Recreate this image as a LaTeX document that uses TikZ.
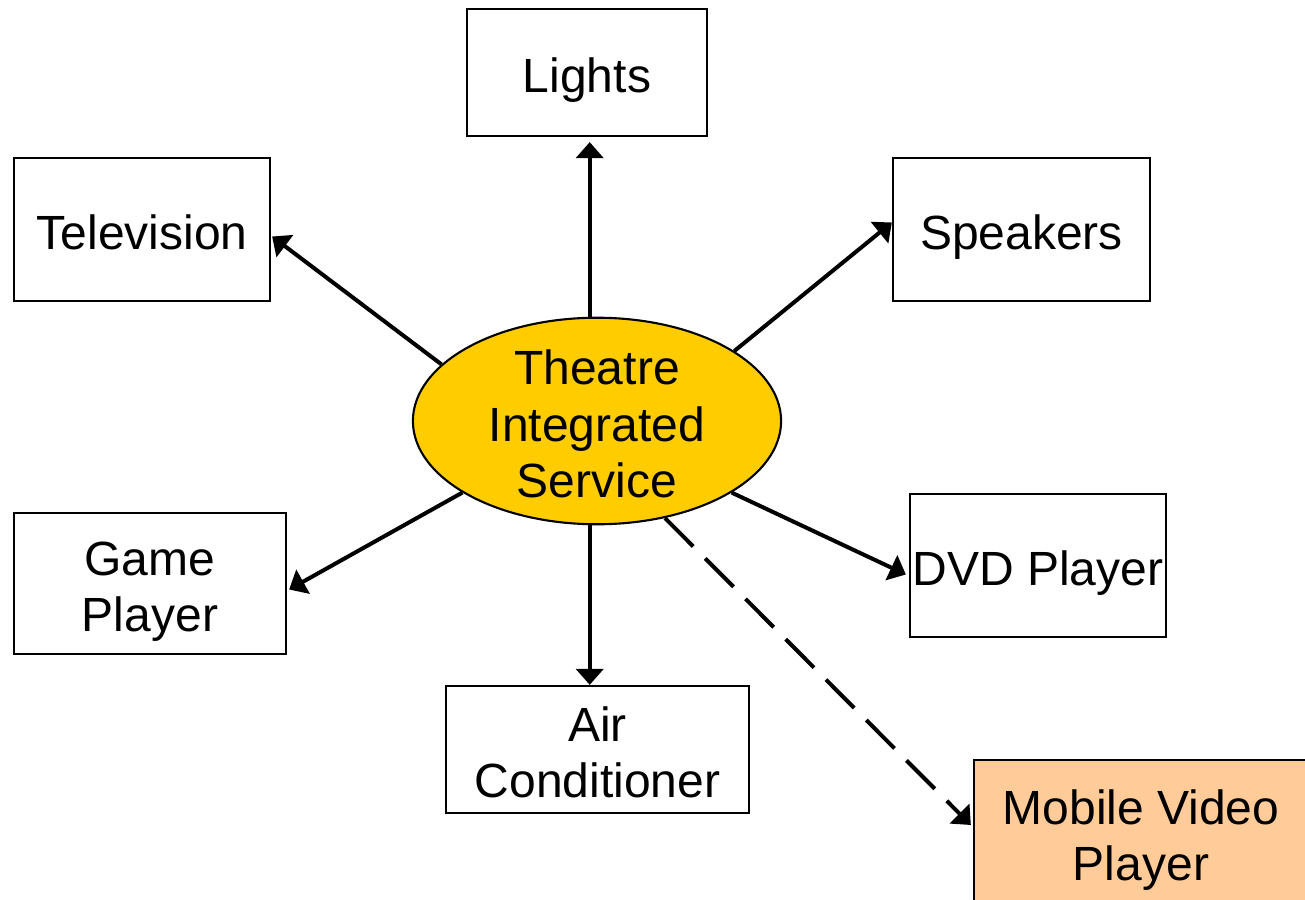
\documentclass[tikz,border=0pt]{standalone}
\usepackage{fontspec}
\setmainfont{Liberation Sans}
\usetikzlibrary{shapes.geometric,arrows.meta,calc}

\definecolor{hubgold}{HTML}{FFCC00}
\definecolor{peach}{HTML}{FFCC99}

% invisible rules that fix the text extent, so every label sits on the same
% baseline offset whether or not it has ascenders or descenders
\newcommand{\oneln}{\rule[-0.12cm]{0pt}{0.64cm}}
\newcommand{\firstln}{\rule{0pt}{0.52cm}}
\newcommand{\lastln}{\rule[-0.12cm]{0pt}{0.12cm}}

\tikzset{
  labelfont/.style={font=\fontsize{13.65}{15.93}\selectfont},
  box/.style={draw, line width=0.6pt, fill=white, inner sep=0pt, align=center, labelfont},
  hub/.style={ellipse, draw, line width=0.6pt, fill=hubgold, inner xsep=0pt, inner ysep=-0.15cm,
              minimum width=3.68cm, minimum height=2.06cm, align=center, labelfont},
  arr/.style={line width=0.04cm, -{Triangle[width=0.27cm,length=0.16cm]}},
  dasharr/.style={arr, dash pattern=on 0.40cm off 0.17cm}
}

\begin{document}
\begin{tikzpicture}[x=0.01cm, y=-0.01cm]
  \useasboundingbox (0,0) rectangle (1305,900);

  % central service
  \node[hub] (ell) at (597,421) {\firstln Theatre\\Integrated\\Service\lastln};

  % devices
  \node[box, minimum width=2.40cm, minimum height=1.27cm] (lights)   at (587,72.5)   {\oneln Lights};
  \node[box, minimum width=2.56cm, minimum height=1.43cm] (tv)       at (142,229.5)  {\oneln Television};
  \node[box, minimum width=2.57cm, minimum height=1.43cm] (speakers) at (1021.5,229.5) {\oneln Speakers};
  \node[box, minimum width=2.72cm, minimum height=1.41cm] (game)     at (150,583.5)  {\firstln Game\\Player\lastln};
  \node[box, minimum width=2.56cm, minimum height=1.43cm] (dvd)      at (1038,565.5) {\oneln DVD Player};
  \node[box, minimum width=3.03cm, minimum height=1.27cm] (air)      at (597.5,749.5) {\firstln Air\\Conditioner\lastln};
  \node[box, fill=peach, minimum width=3.34cm, minimum height=1.44cm] (mobile) at (1141,832) {\firstln Mobile Video\\Player\lastln};

  % connections
  \draw[arr] (ell.94)  -- ($(ell.94 |- lights.south)+(0,5)$);
  \draw[arr] (ell.160) -- ($(tv.east)+(1,7)$);
  \draw[arr] (ell.27)  -- ($(speakers.west)+(0,-7)$);
  \draw[arr] (ell.208) -- ($(game.east)+(2,6)$);
  \draw[arr] (ell.332) -- ($(dvd.west)+(-3,9)$);
  \draw[arr] (ell.266) -- (ell.266 |- air.north);
  \draw[dasharr] (ell.305) -- ($(mobile.west)+(-2,-7)$);
\end{tikzpicture}
\end{document}
